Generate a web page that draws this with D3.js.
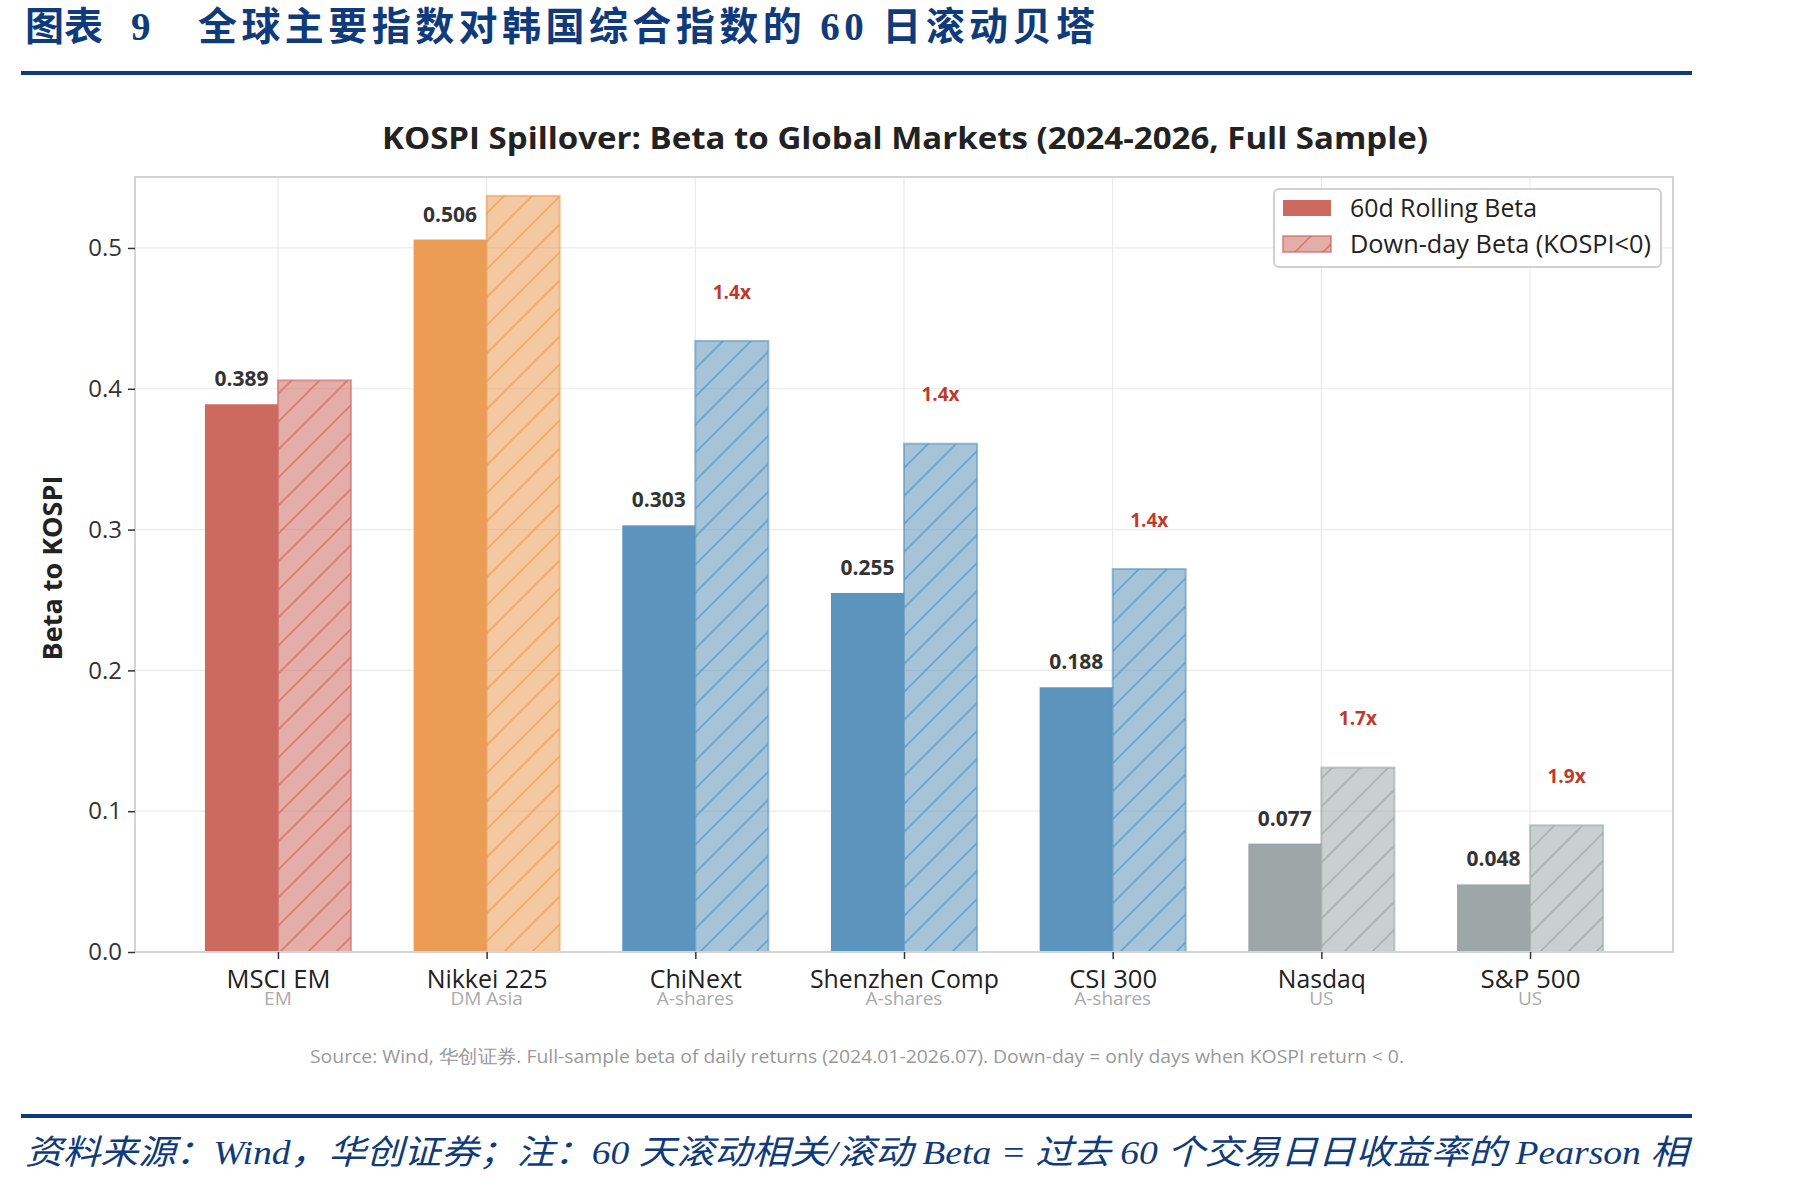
<!DOCTYPE html>
<html>
<head>
<meta charset="utf-8">
<script src="https://cdn.jsdelivr.net/npm/d3@7"></script>
<style>
  body { margin: 0; background: #fff; }
  svg { display: block; }
</style>
</head>
<body>
<svg id="chart" width="1801" height="1186"></svg>
<script>
// data
const markets = ["MSCI EM", "Nikkei 225", "ChiNext", "Shenzhen Comp", "CSI 300", "Nasdaq", "S&P 500"];
const groups = ["EM", "DM Asia", "A-shares", "A-shares", "A-shares", "US", "US"];
const rollingBeta = [0.389, 0.506, 0.303, 0.255, 0.188, 0.077, 0.048];
const downBeta = [0.406, 0.537, 0.434, 0.361, 0.272, 0.131, 0.090];
const ratioLabels = ["", "", "1.4x", "1.4x", "1.4x", "1.7x", "1.9x"];
const yTicks = [0, 0.1, 0.2, 0.3, 0.4, 0.5];
const barColors = ["#cd6a5f", "#eb9c55", "#5b94bc", "#5b94bc", "#5b94bc", "#9ea7a7", "#9ea7a7"];

const svg = d3.select("#chart");
const font = "'Open Sans', 'Noto Sans', sans-serif";

svg.append("rect").attr("width", 1801).attr("height", 1186).attr("fill", "#fff");

// report header
const head = svg.append("text")
  .attr("x", 25).attr("y", 40)
  .attr("font-family", "'Liberation Serif', 'Noto Sans CJK SC', serif")
  .attr("font-weight", "bold")
  .attr("font-size", 39)
  .attr("fill", "#0f3b7c");
head.append("tspan").text("图表");
head.append("tspan").attr("x", 131).text("9");
head.append("tspan").attr("x", 198).attr("textLength", 897)
  .text("全球主要指数对韩国综合指数的 60 日滚动贝塔");

svg.append("rect").attr("x", 21).attr("y", 71).attr("width", 1671).attr("height", 4).attr("fill", "#0f3b7c");
svg.append("rect").attr("x", 21).attr("y", 1114).attr("width", 1671).attr("height", 4).attr("fill", "#0f3b7c");

svg.append("text")
  .attr("x", 25).attr("y", 1164)
  .attr("font-family", "'Liberation Serif', 'Noto Sans CJK SC', serif")
  .attr("font-style", "italic")
  .attr("font-size", 34)
  .attr("fill", "#0f3b7c")
  .attr("textLength", 1663)
  .attr("lengthAdjust", "spacingAndGlyphs")
  .text("资料来源：Wind，华创证券；注：60 天滚动相关/滚动 Beta =  过去 60 个交易日日收益率的 Pearson 相");

// plot area
const pLeft = 135, pRight = 1673, pTop = 177, pBottom = 952;
const x = d3.scaleLinear().domain([-0.685, markets.length - 1 + 0.685]).range([pLeft, pRight]);
const y = d3.scaleLinear().domain([0, 0.5504]).range([pBottom, pTop]);
const barW = x(0.35) - x(0);

// hatch patterns
const defs = svg.append("defs");
const uniq = Array.from(new Set(barColors));
uniq.forEach((c, i) => {
  const p = defs.append("pattern")
    .attr("id", "hatch" + i)
    .attr("patternUnits", "userSpaceOnUse")
    .attr("width", 28).attr("height", 28);
  p.append("rect").attr("width", 28).attr("height", 28).attr("fill", c).attr("fill-opacity", 0.55);
  p.append("path")
    .attr("d", "M0,28 L28,0 M-7,7 L7,-7 M21,35 L35,21")
    .attr("stroke", c).attr("stroke-width", 1.6).attr("stroke-opacity", 0.75);
});
const hatchId = c => "url(#hatch" + uniq.indexOf(c) + ")";

// grid
svg.append("g").selectAll("line.h")
  .data(yTicks).enter().append("line")
  .attr("x1", pLeft).attr("x2", pRight)
  .attr("y1", d => y(d)).attr("y2", d => y(d))
  .attr("stroke", "#ebebeb").attr("stroke-width", 1.2);
svg.append("g").selectAll("line.v")
  .data(markets).enter().append("line")
  .attr("x1", (d, i) => x(i)).attr("x2", (d, i) => x(i))
  .attr("y1", pTop).attr("y2", pBottom)
  .attr("stroke", "#ebebeb").attr("stroke-width", 1.2);

// bars
svg.append("g").selectAll("rect")
  .data(rollingBeta).enter().append("rect")
  .attr("x", (d, i) => x(i) - barW)
  .attr("y", d => y(d))
  .attr("width", barW)
  .attr("height", d => pBottom - y(d))
  .attr("fill", (d, i) => barColors[i]);

svg.append("g").selectAll("rect")
  .data(downBeta).enter().append("rect")
  .attr("x", (d, i) => x(i))
  .attr("y", d => y(d))
  .attr("width", barW)
  .attr("height", d => pBottom - y(d))
  .attr("fill", (d, i) => hatchId(barColors[i]))
  .attr("stroke", (d, i) => barColors[i])
  .attr("stroke-opacity", 0.6)
  .attr("stroke-width", 2);

// value labels
svg.append("g").selectAll("text")
  .data(rollingBeta).enter().append("text")
  .attr("x", (d, i) => x(i) - barW / 2)
  .attr("y", d => y(d) - 18)
  .attr("text-anchor", "middle")
  .attr("font-family", font).attr("font-weight", "bold").attr("font-size", 21)
  .attr("fill", "#333")
  .text(d => d.toFixed(3));

svg.append("g").selectAll("text")
  .data(downBeta).enter().append("text")
  .attr("x", (d, i) => x(i) + barW / 2)
  .attr("y", d => y(d + 0.035) + 7)
  .attr("text-anchor", "middle")
  .attr("font-family", font).attr("font-weight", "bold").attr("font-size", 19)
  .attr("fill", "#c0392b")
  .text((d, i) => ratioLabels[i]);

// frame
svg.append("rect")
  .attr("x", pLeft).attr("y", pTop)
  .attr("width", pRight - pLeft).attr("height", pBottom - pTop)
  .attr("fill", "none").attr("stroke", "#d4d4d4").attr("stroke-width", 2);

// axes
const yAxis = svg.append("g")
  .attr("transform", `translate(${pLeft},0)`)
  .call(d3.axisLeft(y).tickValues(yTicks).tickFormat(d3.format(".1f")).tickSize(7).tickPadding(6));
yAxis.select(".domain").remove();
yAxis.selectAll("line").attr("stroke", "#333").attr("stroke-width", 1.5);
yAxis.selectAll("text").attr("font-family", font).attr("font-size", 24).attr("fill", "#333");

const xAxis = svg.append("g")
  .attr("transform", `translate(0,${pBottom})`)
  .call(d3.axisBottom(x).tickValues(d3.range(markets.length)).tickFormat(i => markets[i]).tickSize(7).tickPadding(11));
xAxis.select(".domain").remove();
xAxis.selectAll("line").attr("stroke", "#333").attr("stroke-width", 1.5);
xAxis.selectAll("text").attr("font-family", font).attr("font-size", 25).attr("fill", "#222")
  .attr("textLength", (d, i) => [104, 121, 92, 189, 88, 88, 100][i])
  .attr("lengthAdjust", "spacingAndGlyphs");

svg.append("g").selectAll("text")
  .data(groups).enter().append("text")
  .attr("x", (d, i) => x(i))
  .attr("y", pBottom + 53)
  .attr("text-anchor", "middle")
  .attr("font-family", font).attr("font-size", 19)
  .attr("fill", "#aaa")
  .text(d => d);

// titles
svg.append("text")
  .attr("x", 905).attr("y", 149)
  .attr("text-anchor", "middle")
  .attr("font-family", font).attr("font-weight", "bold").attr("font-size", 31)
  .attr("fill", "#222")
  .attr("textLength", 1046)
  .attr("lengthAdjust", "spacingAndGlyphs")
  .text("KOSPI Spillover: Beta to Global Markets (2024-2026, Full Sample)");

svg.append("text")
  .attr("transform", "rotate(-90)")
  .attr("x", -568).attr("y", 62)
  .attr("text-anchor", "middle")
  .attr("font-family", font).attr("font-weight", "bold").attr("font-size", 27)
  .attr("fill", "#222")
  .text("Beta to KOSPI");

svg.append("text")
  .attr("x", 857).attr("y", 1063)
  .attr("text-anchor", "middle")
  .attr("font-family", font).attr("font-size", 19)
  .attr("fill", "#999")
  .attr("textLength", 1094)
  .attr("lengthAdjust", "spacingAndGlyphs")
  .text("Source: Wind, 华创证券. Full-sample beta of daily returns (2024.01-2026.07). Down-day = only days when KOSPI return < 0.");

// legend
const lg = svg.append("g").attr("transform", "translate(1274,189)");
lg.append("rect").attr("width", 387).attr("height", 78).attr("rx", 5)
  .attr("fill", "#fff").attr("stroke", "#d0d0d0").attr("stroke-width", 2);
const legendItems = ["60d Rolling Beta", "Down-day Beta (KOSPI<0)"];
legendItems.forEach((t, i) => {
  const yy = 19 + i * 36;
  if (i === 0) {
    lg.append("rect").attr("x", 9).attr("y", yy - 8).attr("width", 48).attr("height", 16).attr("fill", barColors[0]);
  } else {
    lg.append("rect").attr("x", 9).attr("y", yy - 8).attr("width", 48).attr("height", 16)
      .attr("fill", hatchId(barColors[0])).attr("stroke", barColors[0]).attr("stroke-opacity", 0.6).attr("stroke-width", 2);
  }
  lg.append("text").attr("x", 76).attr("y", yy + 9)
    .attr("font-family", font).attr("font-size", 25).attr("fill", "#222")
    .attr("textLength", i === 0 ? 187 : 301)
    .attr("lengthAdjust", "spacingAndGlyphs")
    .text(t);
});
</script>
</body>
</html>
